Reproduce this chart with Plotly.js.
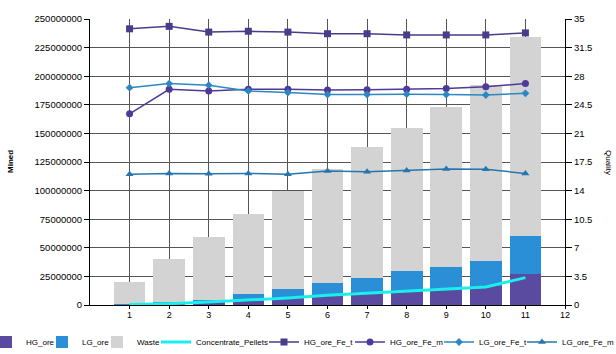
<!DOCTYPE html>
<html><head><meta charset="utf-8">
<script src="https://cdn.plot.ly/plotly-3.0.1.min.js"></script>
<style>html,body{margin:0;padding:0;background:#fff}#chart{width:616px;height:354px}</style>
</head><body><div id="chart"></div>
<script>
const periods = [1,2,3,4,5,6,7,8,9,10,11];
const hgOre = [300000,1200000,2500000,3500000,7400000,9000000,11000000,12700000,15000000,17000000,27000000];
const lgOre = [200000,1000000,2300000,5900000,6800000,10000000,13000000,16800000,17800000,21300000,33700000];
const waste = [19500000,37800000,54700000,70100000,85300000,100000000,114500000,125000000,140200000,154300000,174000000];
const concentratePellets = [0.05,0.16,0.37,0.6,0.86,1.2,1.45,1.7,1.95,2.2,3.35];
const hgFeT = [33.8,34.1,33.4,33.5,33.4,33.2,33.2,33.05,33.05,33.05,33.3];
const hgFeM = [23.4,26.4,26.2,26.4,26.4,26.3,26.35,26.4,26.5,26.7,27.1];
const lgFeT = [26.6,27.1,26.9,26.2,26.0,25.75,25.75,25.8,25.75,25.7,25.9];
const lgFeM = [16.0,16.1,16.05,16.1,16.0,16.4,16.3,16.45,16.65,16.6,16.1];
const xTicks = [1,2,3,4,5,6,7,8,9,10,11,12];

const plotL = 90, plotW = 475, plotB = 305, plotH = 286, figW = 616, figH = 354;
// legend box left edges (px) and indentation
const legendLeft = [0,42,97,156,264,350,439,522];
const legendIndent = [-14,0,0,0,0,0,0,0];
const names = ['legend2','legend3','legend4','legend5','legend6','legend7','legend8','legend9'];

const traces = [
  {type:'bar', name:'HG_ore', x:periods, y:hgOre, width:0.8, marker:{color:'#5B4BA0'}, legend:names[0]},
  {type:'bar', name:'LG_ore', x:periods, y:lgOre, width:0.8, marker:{color:'#2A8FD6'}, legend:names[1]},
  {type:'bar', name:'Waste', x:periods, y:waste, width:0.8, marker:{color:'#D3D3D3'}, legend:names[2]},
  {type:'scatter', mode:'lines', name:'Concentrate_Pellets', x:periods, y:concentratePellets, yaxis:'y2', line:{color:'#19F0EE', width:3}, legend:names[3]},
  {type:'scatter', mode:'lines+markers', name:'HG_ore_Fe_t', x:periods, y:hgFeT, yaxis:'y2', line:{color:'#483D8B', width:1.5}, marker:{symbol:'square', size:7, color:'#483D8B'}, legend:names[4]},
  {type:'scatter', mode:'lines+markers', name:'HG_ore_Fe_m', x:periods, y:hgFeM, yaxis:'y2', line:{color:'#4E3A98', width:1.5}, marker:{symbol:'circle', size:7, color:'#4E3A98'}, legend:names[5]},
  {type:'scatter', mode:'lines+markers', name:'LG_ore_Fe_t', x:periods, y:lgFeT, yaxis:'y2', line:{color:'#2C88C2', width:1.5}, marker:{symbol:'diamond', size:6, color:'#2C88C2'}, legend:names[6]},
  {type:'scatter', mode:'lines+markers', name:'LG_ore_Fe_m', x:periods, y:lgFeM, yaxis:'y2', line:{color:'#2476B0', width:1.5}, marker:{symbol:'triangle-up', size:7, color:'#2476B0'}, legend:names[7]}
];

const font = {family:'Liberation Sans, Arial, sans-serif', size:9.5, color:'#000'};
const layout = {
  width:figW, height:figH,
  margin:{l:90, r:51, t:19, b:49, autoexpand:false},
  paper_bgcolor:'#fff', plot_bgcolor:'#fff',
  barmode:'stack',
  font: font,
  showlegend:true,
  xaxis:{range:[0,12], tickvals:xTicks, ticks:'outside', ticklen:3, tickcolor:'#000', ticklabelstandoff:-2,
         showline:true, linecolor:'#000', linewidth:1, showgrid:true, gridcolor:'#555', gridwidth:1,
         zeroline:false, tickfont:{family:font.family, size:9, color:'#000'}, automargin:false},
  yaxis:{range:[0,250000000], dtick:25000000, tick0:0, tickformat:'d',
         ticks:'outside', ticklen:5, tickcolor:'#000', showline:true, linecolor:'#000', linewidth:1,
         showgrid:true, gridcolor:'#555', gridwidth:1, zeroline:false, automargin:false,
         tickfont:{family:font.family, size:9.5, color:'#000'}},
  yaxis2:{range:[0,35], dtick:3.5, tick0:0, overlaying:'y', side:'right', ticks:'outside', ticklen:6, tickcolor:'#000',
          showline:true, linecolor:'#000', linewidth:1, showgrid:false, zeroline:false, automargin:false,
          tickfont:{family:font.family, size:9.5, color:'#000'}},
  annotations:[
    {text:'<b>Mined</b>', xref:'paper', yref:'paper', x:(10-plotL)/plotW, y:(plotB-162)/plotH, textangle:-90, showarrow:false,
     font:{family:font.family, size:8, color:'#000'}, xanchor:'center', yanchor:'middle'},
    {text:'Quality', xref:'paper', yref:'paper', x:(609-plotL)/plotW, y:(plotB-162)/plotH, textangle:90, showarrow:false,
     font:{family:font.family, size:8, color:'#000'}, xanchor:'center', yanchor:'middle'}
  ]
};
names.forEach((n,i)=>{
  layout[n] = {x:legendLeft[i]/figW, xref:'container', xanchor:'left', indentation:legendIndent[i],
               y:1-342/figH, yref:'container', yanchor:'middle', orientation:'h',
               bgcolor:'rgba(0,0,0,0)', borderwidth:0, font:{family:font.family, size:8, color:'#000'}};
});
Plotly.newPlot('chart', traces, layout, {displayModeBar:false, staticPlot:true});
</script></body></html>
